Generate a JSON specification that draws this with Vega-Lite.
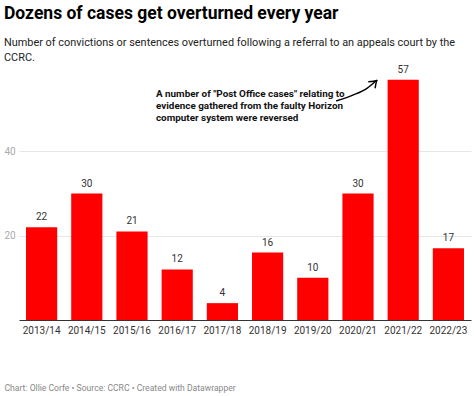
{
  "$schema": "https://vega.github.io/schema/vega-lite/v6.json",
  "width": 452,
  "height": 253,
  "autosize": {"type": "none"},
  "padding": {"left": 19, "top": 67, "right": 3, "bottom": 76},
  "background": "white",
  "config": {
    "font": "Roboto",
    "view": {"stroke": null},
    "text": {"font": "Roboto"}
  },
  "title": {
    "text": "Dozens of cases get overturned every year",
    "subtitle": ["Number of convictions or sentences overturned following a referral to an appeals court by the", "CCRC."],
    "anchor": "start",
    "dx": 0,
    "offset": 2,
    "font": "Roboto",
    "fontSize": 17.5,
    "fontWeight": "bold",
    "color": "#000000",
    "subtitleFont": "Roboto",
    "subtitleFontSize": 10.9,
    "subtitleColor": "#222222",
    "subtitleLineHeight": 15,
    "subtitlePadding": 14
  },
  "datasets": {
    "bars": [
      {"year": "2013/14", "cases": 22},
      {"year": "2014/15", "cases": 30},
      {"year": "2015/16", "cases": 21},
      {"year": "2016/17", "cases": 12},
      {"year": "2017/18", "cases": 4},
      {"year": "2018/19", "cases": 16},
      {"year": "2019/20", "cases": 10},
      {"year": "2020/21", "cases": 30},
      {"year": "2021/22", "cases": 57},
      {"year": "2022/23", "cases": 17}
    ],
    "arrow": [
      {"part": "curve", "ord": 1, "x": 7.03, "y": 52.0},
      {"part": "curve", "ord": 2, "x": 7.40, "y": 53.4},
      {"part": "curve", "ord": 3, "x": 7.69, "y": 54.9},
      {"part": "curve", "ord": 4, "x": 7.91, "y": 56.8},
      {"part": "head", "ord": 1, "x": 7.74, "y": 56.5},
      {"part": "head", "ord": 2, "x": 7.92, "y": 56.8},
      {"part": "head", "ord": 3, "x": 7.88, "y": 55.1}
    ],
    "note": [
      {"x": 3.03, "y": 53.7, "label": "A number of \"Post Office cases\" relating to\nevidence gathered from the faulty Horizon\ncomputer system were reversed"}
    ]
  },
  "layer": [
    {
      "data": {"name": "bars"},
      "layer": [
        {
          "mark": {"type": "bar", "color": "#ff0000"},
          "encoding": {
            "x": {
              "field": "year", "type": "nominal", "sort": null,
              "scale": {"paddingInner": 0.31, "paddingOuter": 0.155},
              "axis": {
                "title": "Chart: Ollie Corfe • Source: CCRC • Created with Datawrapper",
                "titleAnchor": "start",
                "titleAlign": "left",
                "titleX": -15,
                "titleY": 67,
                "titleBaseline": "middle",
                "titleFont": "Roboto",
                "titleFontSize": 8.6,
                "titleFontWeight": "normal",
                "titleColor": "#888888",
                "labelAngle": 0,
                "labelFont": "Roboto",
                "labelFontSize": 10,
                "labelColor": "#333333",
                "labelPadding": 5,
                "ticks": false,
                "tickSize": 0,
                "domainColor": "#333333",
                "domainWidth": 1
              }
            },
            "y": {
              "field": "cases", "type": "quantitative",
              "scale": {"domain": [0, 60], "nice": false},
              "axis": {
                "title": null,
                "values": [20, 40],
                "domain": false,
                "ticks": false,
                "tickSize": 0,
                "grid": true,
                "gridColor": "#e6e6e6",
                "labelAlign": "left",
                "labelPadding": 15,
                "labelFont": "Roboto",
                "labelFontSize": 10,
                "labelColor": "#aaaaaa"
              }
            }
          }
        },
        {
          "mark": {"type": "text", "baseline": "bottom", "dy": -5, "fontSize": 10, "color": "#333333"},
          "encoding": {
            "x": {"field": "year", "type": "nominal", "sort": null},
            "y": {"field": "cases", "type": "quantitative"},
            "text": {"field": "cases", "type": "quantitative"}
          }
        }
      ]
    },
    {
      "data": {"name": "arrow"},
      "mark": {"type": "line", "color": "#000000", "strokeWidth": 1.5, "interpolate": "monotone", "strokeCap": "round", "strokeJoin": "round"},
      "encoding": {
        "x": {"field": "x", "type": "quantitative", "scale": {"domain": [0, 10], "nice": false, "zero": false}, "axis": null},
        "y": {"field": "y", "type": "quantitative", "scale": {"domain": [0, 60], "nice": false}},
        "detail": {"field": "part"},
        "order": {"field": "ord"}
      }
    },
    {
      "data": {"name": "note"},
      "mark": {"type": "text", "align": "left", "baseline": "middle", "fontSize": 9.9, "fontWeight": "bold", "color": "#111111", "lineBreak": "\n", "lineHeight": 12},
      "encoding": {
        "x": {"field": "x", "type": "quantitative", "scale": {"domain": [0, 10], "nice": false, "zero": false}, "axis": null},
        "y": {"field": "y", "type": "quantitative", "scale": {"domain": [0, 60], "nice": false}},
        "text": {"field": "label"}
      }
    }
  ],
  "resolve": {"scale": {"x": "independent"}}
}
